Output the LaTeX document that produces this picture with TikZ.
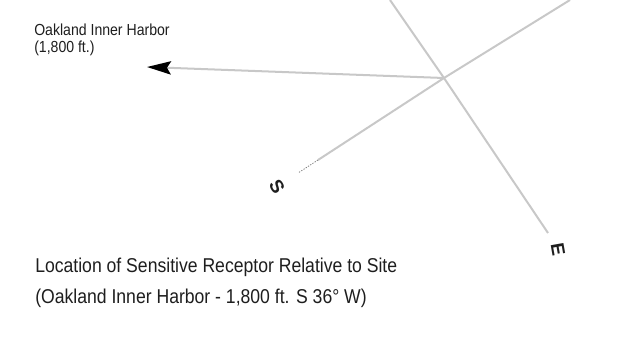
\documentclass[tikz,border=0pt]{standalone}
\usepackage{fontspec}
\setmainfont{Liberation Sans}
\newfontfamily\narrowfont{Liberation Sans}[FakeStretch=0.88]
\usetikzlibrary{arrows.meta}
\definecolor{axisgray}{RGB}{200,200,200}
\definecolor{txt}{RGB}{30,30,30}
\tikzset{
  axisline/.style={draw=axisgray, line width=1.5pt},
  lbl/.style={text=txt, inner sep=0pt, anchor=base west, align=left},
  dirlbl/.style={text=txt, inner sep=0pt, font=\fontsize{14pt}{14pt}\selectfont\bfseries},
}
\begin{document}
\begin{tikzpicture}[x=0.75pt,y=-0.75pt]
\useasboundingbox (0,0) rectangle (622,339);
\coordinate (C) at (444,78);
\coordinate (Wend) at (390,0);
\coordinate (Eend) at (548,233);
\coordinate (Nend) at (570,0);
\coordinate (Smid) at (318,160);
\coordinate (Send) at (298,173);
\coordinate (tip) at (147,67);
\draw[axisline] (Wend) -- (C) -- (Eend);
\draw[axisline] (Nend) -- (C) -- (Smid);
\draw[draw=gray, line width=0.6pt, dash pattern=on 1pt off 1pt] (Smid) -- (Send);
\draw[axisline, -{Stealth[black, length=18, width=10, inset=3]}] (C) -- (tip);
\node[lbl, font=\narrowfont\fontsize{12pt}{12pt}\selectfont] (harbor) at (34,36) {Oakland Inner Harbor};
\node[lbl, font=\narrowfont\fontsize{12pt}{12pt}\selectfont] (dist) at (34,52) {(1,800 ft.)};
\node[dirlbl, rotate=-60] (S) at (277,187) {S};
\node[dirlbl, rotate=-80] (E) at (558,250) {E};
\node[lbl, font=\narrowfont\fontsize{15pt}{16pt}\selectfont] (title1) at (35,272) {Location of Sensitive Receptor Relative to Site};
\node[lbl, font=\narrowfont\fontsize{15pt}{16pt}\selectfont] (title2) at (35,303) {(Oakland Inner Harbor - 1,800 ft. S 36° W)};
\end{tikzpicture}
\end{document}
